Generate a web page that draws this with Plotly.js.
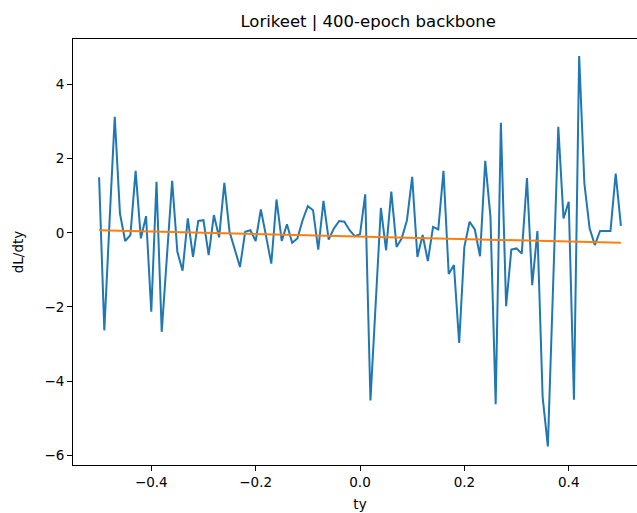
<!DOCTYPE html>
<html>
<head>
<meta charset="utf-8">
<script src="https://cdn.plot.ly/plotly-3.0.1.min.js"></script>
<style>
html,body{margin:0;padding:0;overflow:hidden;background:#fff;}
#chart{width:700px;height:513px;}
</style>
</head>
<body>
<div id="chart"></div>
<script>
// ty values (101 samples from -0.5 to 0.5)
const ty = [
-0.50,-0.49,-0.48,-0.47,-0.46,-0.45,-0.44,-0.43,-0.42,-0.41,
-0.40,-0.39,-0.38,-0.37,-0.36,-0.35,-0.34,-0.33,-0.32,-0.31,
-0.30,-0.29,-0.28,-0.27,-0.26,-0.25,-0.24,-0.23,-0.22,-0.21,
-0.20,-0.19,-0.18,-0.17,-0.16,-0.15,-0.14,-0.13,-0.12,-0.11,
-0.10,-0.09,-0.08,-0.07,-0.06,-0.05,-0.04,-0.03,-0.02,-0.01,
 0.00, 0.01, 0.02, 0.03, 0.04, 0.05, 0.06, 0.07, 0.08, 0.09,
 0.10, 0.11, 0.12, 0.13, 0.14, 0.15, 0.16, 0.17, 0.18, 0.19,
 0.20, 0.21, 0.22, 0.23, 0.24, 0.25, 0.26, 0.27, 0.28, 0.29,
 0.30, 0.31, 0.32, 0.33, 0.34, 0.35, 0.36, 0.37, 0.38, 0.39,
 0.40, 0.41, 0.42, 0.43, 0.44, 0.45, 0.46, 0.47, 0.48, 0.49,
 0.50];
// dL/dty values
const dLdty = [
 1.50,-2.63, 0.30, 3.13, 0.52,-0.22,-0.06, 1.67,-0.15, 0.45,
-2.13, 1.38,-2.67,-0.60, 1.40,-0.51,-1.02, 0.39,-0.65, 0.32,
 0.34,-0.60, 0.48,-0.12, 1.35, 0.03,-0.47,-0.92, 0.03, 0.07,
-0.22, 0.63,-0.09,-0.83, 0.90,-0.22, 0.23,-0.27,-0.15, 0.34,
 0.72, 0.61,-0.45, 0.86,-0.18, 0.12, 0.32, 0.30, 0.07,-0.09,
-0.04, 1.04,-4.52,-1.92, 0.67,-0.47, 1.11,-0.38,-0.15, 0.34,
 1.51,-0.65,-0.06,-0.76, 0.16, 0.09, 1.67,-1.11,-0.87,-2.97,
-0.38, 0.30, 0.09,-0.63, 1.94, 0.43,-4.62, 2.97,-1.98,-0.45,
-0.42,-0.56, 1.48,-1.41, 0.05,-4.43,-5.76,-1.45, 2.86, 0.39,
 0.84,-4.50, 4.77, 1.33, 0.12,-0.33, 0.05, 0.05, 0.05, 1.60,
 0.19];
// linear fit line endpoints
const fitX = [-0.50, 0.50];
const fitY = [0.07, -0.27];

const titleText = 'Lorikeet | 400-epoch backbone';
const xLabel = 'ty';
const yLabel = 'dL/dty';
const xTicks = [-0.4, -0.2, 0.0, 0.2, 0.4];
const yTicks = [-6, -4, -2, 0, 2, 4];

const font = 'DejaVu Sans, sans-serif';

const traces = [
  {x: ty, y: dLdty, type: 'scatter', mode: 'lines',
   line: {color: '#1f77b4', width: 2}, hoverinfo: 'skip'},
  {x: fitX, y: fitY, type: 'scatter', mode: 'lines',
   line: {color: '#ff7f0e', width: 2}, hoverinfo: 'skip'}
];

const axisCommon = {
  showline: true, mirror: true, linecolor: '#000', linewidth: 1,
  ticks: 'outside', ticklen: 5, tickwidth: 1, tickcolor: '#000',
  showgrid: false, zeroline: false,
  tickfont: {family: font, size: 13.5, color: '#000'}
};

const layout = {
  width: 700, height: 513,
  margin: {l: 73, r: 53, t: 39, b: 48},
  paper_bgcolor: '#fff', plot_bgcolor: '#fff',
  showlegend: false,
  title: {text: titleText, font: {family: font, size: 16.5, color: '#000'},
          x: 360/700, xanchor: 'center', xref: 'paper', y: 1 - 21/513, yref: 'container', yanchor: 'middle'},
  xaxis: Object.assign({}, axisCommon, {
    range: [-0.55, 0.55], tickvals: xTicks, tickformat: '.1f',
    title: {text: xLabel, font: {family: font, size: 13.5, color: '#000'}, standoff: 10}
  }),
  yaxis: Object.assign({}, axisCommon, {
    range: [-6.262, 5.228], tickvals: yTicks,
    title: {text: yLabel, font: {family: font, size: 13.5, color: '#000'}, standoff: 17}
  })
};

Plotly.newPlot('chart', traces, layout, {staticPlot: true, displayModeBar: false});
</script>
</body>
</html>
